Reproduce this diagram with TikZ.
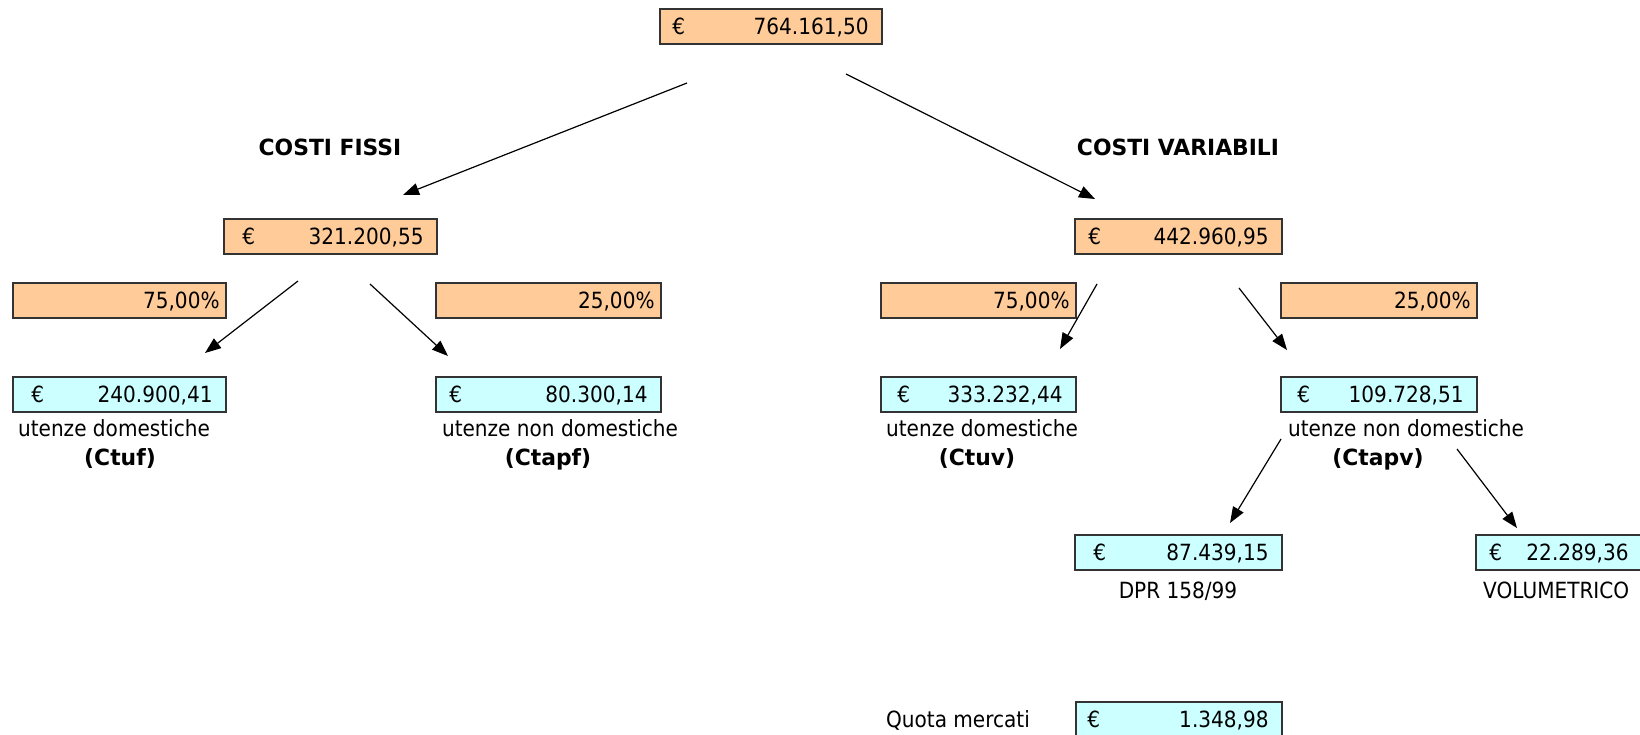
\documentclass[tikz,border=0pt]{standalone}
\usepackage{fontspec}
\setmainfont{DejaVu Sans}[FakeStretch=0.9, BoldFeatures={FakeStretch=0.98}]
\usetikzlibrary{arrows.meta}
\definecolor{orangefill}{HTML}{FFCC99}
\definecolor{cyanfill}{HTML}{CCFFFF}
\definecolor{boxline}{HTML}{333333}
\tikzset{
  obox/.style={draw=boxline, line width=1.6pt, fill=orangefill, inner sep=0pt},
  cbox/.style={draw=boxline, line width=1.6pt, fill=cyanfill, inner sep=0pt},
  txt/.style={inner sep=0pt, font=\fontsize{22.3}{26}\selectfont},
  btxt/.style={inner sep=0pt, font=\fontsize{22.3}{26}\selectfont\bfseries},
  arr/.style={line width=1.2pt, -{Triangle[length=16pt,width=12pt]}}
}
% name, style, xl, yt, xr, yb, value, euro offset
\newcommand{\eurobox}[8]{%
  \node[#2, minimum width={#5-#3}, minimum height={#6-#4}] (#1) at ({(#3+#5)/2},{(#4+#6)/2}) {};
  \node[txt, anchor=base west] (#1e) at ([xshift=#8pt,yshift=-8pt]#1.west) {€};
  \node[txt, anchor=base east] (#1v) at ([xshift=-14pt,yshift=-8pt]#1.east) {#7};
}
% name, xl, yt, xr, yb, value
\newcommand{\pctbox}[6]{%
  \node[obox, minimum width={#4-#2}, minimum height={#5-#3}] (#1) at ({(#2+#4)/2},{(#3+#5)/2}) {};
  \node[txt, anchor=base east] (#1v) at ([xshift=-7pt,yshift=-8pt]#1.east) {#6};
}
\begin{document}
\begin{tikzpicture}[x=1pt,y=-1pt]
\useasboundingbox (0,0) rectangle (1640,734);
\clip (0,0) rectangle (1640,734);
\fill[white] (0,0) rectangle (1640,734);

% top
\eurobox{top}{obox}{660}{9}{882}{44}{764.161,50}{13}
\node[btxt, anchor=base] (cf) at (330,155) {COSTI FISSI};
\node[btxt, anchor=base] (cv) at (1178,155) {COSTI VARIABILI};

% level 2
\eurobox{fissi}{obox}{224}{219}{437}{254}{321.200,55}{19}
\eurobox{var}{obox}{1075}{219}{1282}{254}{442.960,95}{14}

% percentages
\pctbox{p1}{13}{283}{226}{318}{75,00\%}
\pctbox{p2}{436}{283}{661}{318}{25,00\%}
\pctbox{p3}{881}{283}{1076}{318}{75,00\%}
\pctbox{p4}{1281}{283}{1477}{318}{25,00\%}

% level 3
\eurobox{ctuf}{cbox}{13}{377}{226}{412}{240.900,41}{19}
\eurobox{ctapf}{cbox}{436}{377}{661}{412}{80.300,14}{14}
\eurobox{ctuv}{cbox}{881}{377}{1076}{412}{333.232,44}{17}
\eurobox{ctapv}{cbox}{1281}{377}{1477}{412}{109.728,51}{17}

\node[txt, anchor=base] (l1) at (114,436) {utenze domestiche};
\node[btxt, anchor=base] (l1b) at (120,465) {(Ctuf)};
\node[txt, anchor=base] (l2) at (560,436) {utenze non domestiche};
\node[btxt, anchor=base] (l2b) at (548,465) {(Ctapf)};
\node[txt, anchor=base] (l3) at (982,436) {utenze domestiche};
\node[btxt, anchor=base] (l3b) at (977,465) {(Ctuv)};
\node[txt, anchor=base] (l4) at (1406,436) {utenze non domestiche};
\node[btxt, anchor=base] (l4b) at (1378,465) {(Ctapv)};

% level 4
\eurobox{dpr}{cbox}{1075}{535}{1282}{570}{87.439,15}{19}
\eurobox{vol}{cbox}{1476}{535}{1642}{570}{22.289,36}{14}
\node[txt, anchor=base] (l5) at (1178,598) {DPR 158/99};
\node[txt, anchor=base west] (l6) at (1483,598) {VOLUMETRICO};

\eurobox{qm}{cbox}{1076}{702}{1282}{737}{1.348,98}{12}
\node[txt, anchor=base] (l7) at (958,727) {Quota mercati};

% arrows
\coordinate (a1s) at (687,83);   \coordinate (a1e) at (403,195);
\coordinate (a2s) at (846,74);   \coordinate (a2e) at (1095,199);
\coordinate (a3s) at (298,281);  \coordinate (a3e) at (205,353);
\coordinate (a4s) at (370,284);  \coordinate (a4e) at (448,356);
\coordinate (a5s) at (1097,284); \coordinate (a5e) at (1060,349);
\coordinate (a6s) at (1239,288); \coordinate (a6e) at (1287,350);
\coordinate (a7s) at (1281,439); \coordinate (a7e) at (1230,523);
\coordinate (a8s) at (1457,449); \coordinate (a8e) at (1517,528);
\foreach \i in {1,...,8} { \draw[arr] (a\i s) -- (a\i e); }
\end{tikzpicture}
\end{document}
